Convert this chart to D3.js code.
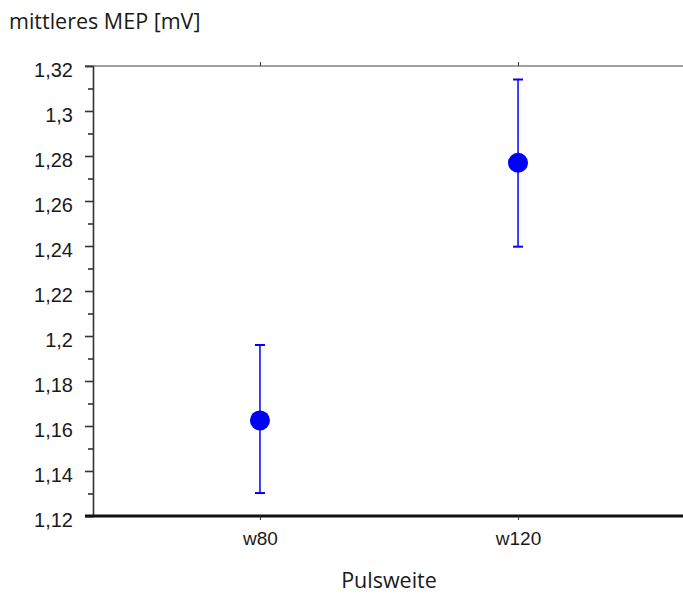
<!DOCTYPE html>
<html>
<head>
<meta charset="utf-8">
<script src="https://cdnjs.cloudflare.com/ajax/libs/d3/7.8.5/d3.min.js"></script>
<style>
  body { margin: 0; background: #fff; }
  svg { display: block; }
</style>
</head>
<body>
<svg id="chart"></svg>
<script>
// data
const categories = ["w80", "w120"];
const means = [1.1625, 1.277];
const lower = [1.1302, 1.2397];
const upper = [1.196, 1.314];
const yTicks = [1.12, 1.14, 1.16, 1.18, 1.2, 1.22, 1.24, 1.26, 1.28, 1.3, 1.32];

const width = 683, height = 595;
const mLeft = 93, mTop = 66, mBottom = 516, mRight = 685;

let svg = d3.select("#chart")
    .attr("width", width)
    .attr("height", height);

let x = d3.scalePoint()
    .domain(categories)
    .range([mLeft, mRight])
    .padding(0.647);

let y = d3.scaleLinear()
    .domain([1.12, 1.32])
    .range([mBottom, mTop]);

const fmt = d => String(+d.toFixed(2)).replace(".", ",");

// y axis: major ticks with labels + minor ticks between
let yAxis = svg.append("g")
    .attr("transform", `translate(${mLeft},0)`)
    .call(d3.axisLeft(y).tickValues(yTicks).tickFormat(fmt).tickSize(8).tickPadding(12));
yAxis.select(".domain").attr("stroke", "#333").attr("stroke-width", 1.6);
yAxis.selectAll(".tick line").attr("stroke", "#333").attr("stroke-width", 1.6);
yAxis.selectAll(".tick text")
    .attr("font-family", "'Liberation Sans', Arial, sans-serif")
    .attr("font-size", 20)
    .attr("fill", "#1a1a1a")
    .attr("dy", "0.5em");

let minor = yTicks.slice(1).map((t, i) => (t + yTicks[i]) / 2);
svg.append("g")
    .attr("transform", `translate(${mLeft},0)`)
    .call(d3.axisLeft(y).tickValues(minor).tickFormat("").tickSize(5))
    .call(g => g.select(".domain").remove())
    .selectAll(".tick line").attr("stroke", "#333").attr("stroke-width", 1.6);

// top line
svg.append("g")
    .attr("transform", `translate(0,${mTop})`)
    .call(d3.axisTop(x).tickSize(4).tickFormat(""))
    .call(g => g.select(".domain").attr("d", `M${mLeft - 8},0H${width}`).attr("stroke", "#444").attr("stroke-width", 1.2))
    .selectAll(".tick line").attr("stroke", "#333");

// bottom axis
let xAxis = svg.append("g")
    .attr("transform", `translate(0,${mBottom})`)
    .call(d3.axisBottom(x).tickSize(4).tickPadding(12));
xAxis.select(".domain").attr("d", `M${mLeft - 8},0H${width}`).attr("stroke", "#111").attr("stroke-width", 3);
xAxis.selectAll(".tick line").attr("stroke", "#333");
xAxis.selectAll(".tick text")
    .attr("font-family", "'Liberation Sans', Arial, sans-serif")
    .attr("font-size", 19)
    .attr("fill", "#1a1a1a");

// error bars
let bars = svg.append("g").selectAll("g")
    .data(categories)
    .join("g");

bars.append("line")
    .attr("x1", d => x(d)).attr("x2", d => x(d))
    .attr("y1", (d, i) => y(lower[i]))
    .attr("y2", (d, i) => y(upper[i]))
    .attr("stroke", "#0000ff").attr("stroke-width", 1.5);

bars.selectAll(".cap")
    .data((d, i) => [[d, lower[i]], [d, upper[i]]])
    .join("line")
    .attr("x1", d => x(d[0]) - 5).attr("x2", d => x(d[0]) + 5)
    .attr("y1", d => y(d[1])).attr("y2", d => y(d[1]))
    .attr("stroke", "#0000ff").attr("stroke-width", 2);

bars.append("circle")
    .attr("cx", d => x(d))
    .attr("cy", (d, i) => y(means[i]))
    .attr("r", 10)
    .attr("fill", "#0000ff");

// titles
svg.append("text")
    .attr("x", 9).attr("y", 29)
    .attr("font-family", "'Open Sans', 'Noto Sans', sans-serif")
    .attr("font-size", 21.5)
    .attr("fill", "#1a1a1a")
    .text("mittleres MEP [mV]");

svg.append("text")
    .attr("x", 389).attr("y", 588)
    .attr("text-anchor", "middle")
    .attr("font-family", "'Open Sans', 'Noto Sans', sans-serif")
    .attr("font-size", 21.5)
    .attr("fill", "#1a1a1a")
    .text("Pulsweite");
</script>
</body>
</html>
